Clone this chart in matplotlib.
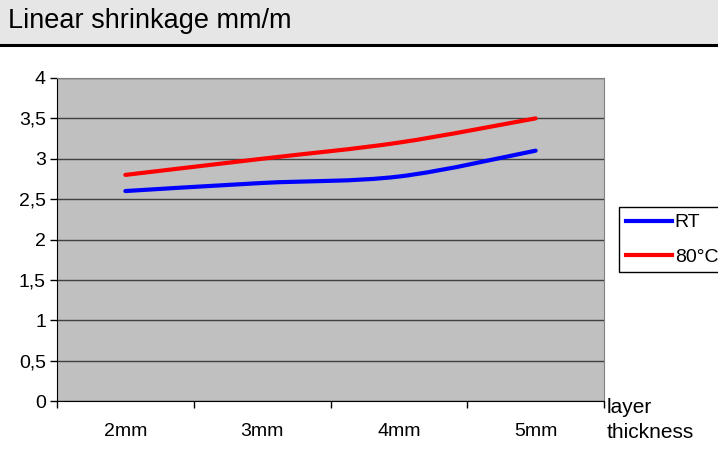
import numpy as np
import matplotlib.pyplot as plt
from matplotlib.path import Path
from matplotlib.patches import PathPatch, Rectangle
from matplotlib.lines import Line2D

plt.rcParams['font.family'] = ['Liberation Sans', 'DejaVu Sans']

categories = ['2mm', '3mm', '4mm', '5mm']
rt_values = [2.6, 2.7, 2.78, 3.1]
hot_values = [2.8, 3.0, 3.2, 3.5]
series_names = ['RT', '80°C']
y_ticks = [0, 0.5, 1, 1.5, 2, 2.5, 3, 3.5, 4]
y_labels = ['0', '0,5', '1', '1,5', '2', '2,5', '3', '3,5', '4']


def smooth_path(xs, ys):
    """Excel-like smoothed line: cubic Bezier segments through each point."""
    pts = np.column_stack([xs, ys]).astype(float)
    n = len(pts)
    verts = [pts[0]]
    codes = [Path.MOVETO]
    for i in range(n - 1):
        p0 = pts[i - 1] if i > 0 else pts[i]
        p1 = pts[i]
        p2 = pts[i + 1]
        p3 = pts[i + 2] if i + 2 < n else pts[i + 1]
        c1 = p1 + (p2 - p0) / 6
        c2 = p2 - (p3 - p1) / 6
        verts += [c1, c2, p2]
        codes += [Path.CURVE4] * 3
    return Path(verts, codes)


fig = plt.figure(figsize=(7.18, 4.57), dpi=100)

# header band
fig.patches.append(Rectangle((0, 1 - 44 / 457), 1, 44 / 457, transform=fig.transFigure,
                             facecolor='#e6e6e6', edgecolor='none', zorder=0))
fig.lines.append(Line2D([0, 1], [1 - 45 / 457] * 2, transform=fig.transFigure,
                        color='black', lw=2.2))
fig.text(8 / 718, 1 - 28.5 / 457, 'Linear shrinkage mm/m', fontsize=19.5,
         va='baseline', ha='left')

ax = fig.add_axes([57 / 718, 1 - 401 / 457, 547 / 718, 323 / 457])
ax.set_facecolor('#c0c0c0')

x = np.arange(len(categories))
colors = ['#0000ff', '#ff0000']
for vals, c in zip([rt_values, hot_values], colors):
    ax.add_patch(PathPatch(smooth_path(x, vals), facecolor='none', edgecolor=c,
                           lw=3, capstyle='round', zorder=3))

ax.set_xlim(-0.5, len(categories) - 0.5)
ax.set_ylim(0, 4)
ax.set_yticks(y_ticks)
ax.set_yticklabels(y_labels, fontsize=14)
ax.set_xticks(np.arange(len(categories) + 1) - 0.5)
ax.set_xticklabels([])
ax.set_xticks(x, minor=True)
ax.set_xticklabels(categories, minor=True, fontsize=14)
ax.tick_params(axis='x', which='minor', length=0, pad=16)
ax.tick_params(axis='both', which='major', length=5, width=1, color='black', direction='out')
ax.tick_params(axis='y', pad=3)
ax.grid(axis='y', color='#404040', lw=1)
ax.set_axisbelow(True)
for s in ['top', 'right']:
    ax.spines[s].set_color('#808080')
for s in ['left', 'bottom']:
    ax.spines[s].set_color('black')

fig.text(607 / 718, 1 - 413 / 457, 'layer', fontsize=15, va='baseline', ha='left')
fig.text(607 / 718, 1 - 438 / 457, 'thickness', fontsize=15, va='baseline', ha='left')

handles = [Line2D([], [], color=c, lw=3) for c in colors]
leg = fig.legend(handles, series_names, loc='upper left', bbox_to_anchor=(619 / 718, 1 - 207 / 457),
                 fontsize=14, frameon=True, fancybox=False, edgecolor='black', framealpha=1,
                 handlelength=2.4, handletextpad=0.12, borderpad=0.35, labelspacing=0.85,
                 borderaxespad=0)
leg.get_frame().set_linewidth(1)

fig.savefig('out.png', dpi=100)
